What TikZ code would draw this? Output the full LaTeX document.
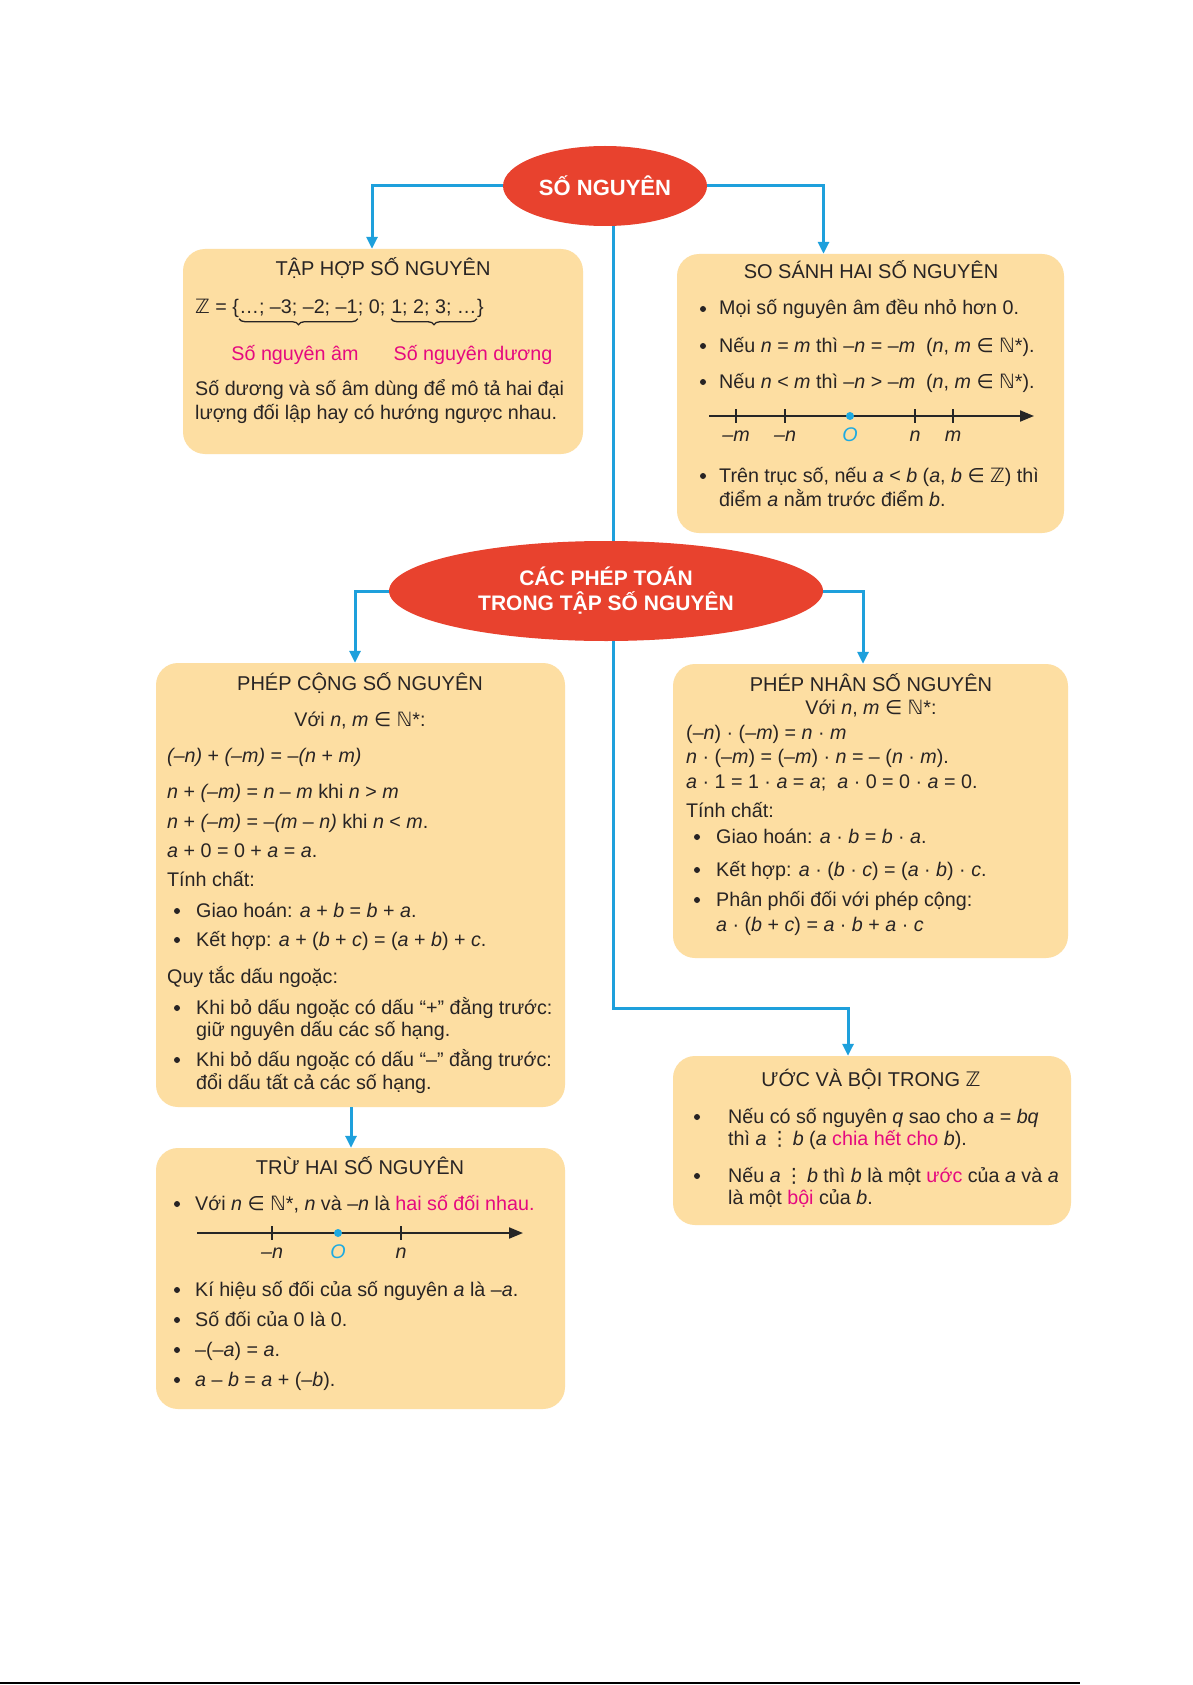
\documentclass[tikz,border=0pt]{standalone}
\usepackage{fontspec}
\setmainfont{Liberation Sans}
\newfontfamily\dvfont{DejaVu Sans}
\usetikzlibrary{arrows.meta,shapes.geometric,decorations.pathreplacing}
\definecolor{boxc}{RGB}{253,222,162}
\definecolor{redc}{RGB}{232,66,46}
\definecolor{bluec}{RGB}{30,160,220}
\definecolor{pinkc}{RGB}{229,9,127}
\definecolor{textc}{RGB}{40,36,36}
\definecolor{cyanc}{RGB}{30,170,225}
\newcommand{\itv}[1]{\textit{#1}}
\newcommand{\myN}{{\dvfont ℕ}}
\newcommand{\myZ}{{\dvfont ℤ}}
\newcommand{\myin}{{\dvfont ∈}}
\newcommand{\mydiv}{{\dvfont ⋮}}
\newcommand{\pk}[1]{\textcolor{pinkc}{#1}}
\newcommand{\bodyfont}{\fontsize{19.7}{23}\selectfont}
\newcommand{\ttlfont}{\fontsize{20}{24}\selectfont}
\begin{document}
\begin{tikzpicture}[x=1pt,y=-1pt,
  box/.style={rectangle, rounded corners=22pt, fill=boxc, inner sep=0pt},
  oval/.style={ellipse, fill=redc, inner sep=0pt, text=white, align=center},
  conn/.style={draw=bluec, line width=3pt, -{Triangle[length=12pt,width=11pt]}},
  plainconn/.style={draw=bluec, line width=3pt},
  txt/.style={anchor=base west, inner sep=0pt, font=\bodyfont, text=textc},
  ctr/.style={anchor=base, inner sep=0pt, font=\bodyfont, text=textc},
  ttl/.style={anchor=base, inner sep=0pt, font=\ttlfont, text=textc},
  lbl/.style={anchor=base, inner sep=0pt, font=\bodyfont\itshape, text=textc},
  numline/.style={draw=black!85, line width=2pt, -{Triangle[length=14pt,width=11pt]}},
  tick/.style={draw=black!85, line width=1.6pt},
  bul/.style={fill=textc},
  brc/.style={decorate, decoration={brace, mirror, amplitude=6pt}, line width=1.3pt, draw=textc}
]
\fill[white] (0,0) rectangle (1192,1685);
\useasboundingbox (0,0) rectangle (1192,1685);

% boxes
\node[box, minimum width=400pt, minimum height=205pt] (b1) at (383,351.5) {};
\node[box, minimum width=387pt, minimum height=279pt] (b2) at (870.5,393.5) {};
\node[box, minimum width=409pt, minimum height=444pt] (b3) at (360.5,885) {};
\node[box, minimum width=409pt, minimum height=261pt] (b4) at (360.5,1278.5) {};
\node[box, minimum width=395pt, minimum height=294pt] (b5) at (870.5,811) {};
\node[box, minimum width=398pt, minimum height=169pt] (b6) at (872,1140.5) {};

% ellipses
\node[oval, minimum width=204pt, minimum height=80pt, font=\fontsize{22}{26}\selectfont\bfseries] (e1) at (605,186) {SỐ NGUYÊN};
\node[oval, minimum width=434pt, minimum height=100pt, font=\fontsize{21}{25}\selectfont\bfseries] (e2) at (606,591) {CÁC PHÉP TOÁN\\TRONG TẬP SỐ NGUYÊN};

% connectors
\draw[conn] (e1.west) -| ([xshift=-11pt]b1.north);
\draw[conn] (e1.east) -| ([xshift=-47pt]b2.north);
\draw[plainconn] ([xshift=8pt]e1.south) -- ([xshift=7pt]e2.north);
\draw[conn] (e2.west) -| ([xshift=-5.5pt]b3.north);
\draw[conn] (e2.east) -| ([xshift=-7.5pt]b5.north);
\coordinate (turn) at (613,1008);
\draw[conn] ([xshift=7pt]e2.south) -- (turn) -| ([xshift=-24pt]b6.north);
\draw[conn] ([xshift=-9.5pt]b3.south) -- ([xshift=-9.5pt]b4.north);

% ---- Box 1: TAP HOP SO NGUYEN
\node[ttl] (t1) at (383,276) {TẬP HỢP SỐ NGUYÊN};
\node[txt] (z0) at (195,313) {\myZ{} = \{};
\node[txt] (z1) at (z0.base east) {…; –3; –2; –1};
\node[txt] (z2) at (z1.base east) {; 0;};
\node[txt] (z3) at ([xshift=5.5pt]z2.base east) {1; 2; 3; …};
\node[txt] (z4) at (z3.base east) {\}};
\draw[brc] ([yshift=-3pt]z1.south west) -- ([yshift=-3pt]z1.south east);
\draw[brc] ([yshift=-3pt]z3.south west) -- ([yshift=-3pt]z3.south east);
\node[ctr, text=pinkc] (t1b) at (295,360) {Số nguyên âm};
\node[ctr, text=pinkc] (t1c) at (473,360) {Số nguyên dương};
\node[txt] (t1d) at (195,395) {Số dương và số âm dùng để mô tả hai đại};
\node[txt] (t1e) at (195,419) {lượng đối lập hay có hướng ngược nhau.};

% ---- Box 2: SO SANH
\node[ttl] (t2) at (871,279) {SO SÁNH HAI SỐ NGUYÊN};
\fill[bul] (703,309) circle (3pt);
\node[txt] (t2a) at (719,315) {Mọi số nguyên âm đều nhỏ hơn 0.};
\fill[bul] (703,346) circle (3pt);
\node[txt] (t2b) at (719,352) {Nếu \itv{n} = \itv{m} thì –\itv{n} = –\itv{m}\ \ (\itv{n}, \itv{m} \myin{} \myN*).};
\fill[bul] (703,382) circle (3pt);
\node[txt] (t2c) at (719,388) {Nếu \itv{n} < \itv{m} thì –\itv{n} > –\itv{m}\ \ (\itv{n}, \itv{m} \myin{} \myN*).};
\draw[numline] (709,416) -- (1034,416);
\foreach \xx in {736,785,915,953} \draw[tick] (\xx,409) -- (\xx,423);
\fill[cyanc] (850,416) circle (4pt);
\node[lbl] (n1a) at (736,441) {–m};
\node[lbl] (n1b) at (785,441) {–n};
\node[lbl, text=cyanc] (n1c) at (850,441) {O};
\node[lbl] (n1d) at (915,441) {n};
\node[lbl] (n1e) at (953,441) {m};
\fill[bul] (703,476) circle (3pt);
\node[txt] (t2d) at (719,482) {Trên trục số, nếu \itv{a} < \itv{b} (\itv{a}, \itv{b} \myin{} \myZ) thì};
\node[txt] (t2e) at (719,506) {điểm \itv{a} nằm trước điểm \itv{b}.};

% ---- Box 3: PHEP CONG
\node[ttl] (t3) at (360,690) {PHÉP CỘNG SỐ NGUYÊN};
\node[ctr] (t3a) at (360,726) {Với \itv{n}, \itv{m} \myin{} \myN*:};
\node[txt] (t3b) at (167,762) {\itv{(–n)} + \itv{(–m)} = –\itv{(n} + \itv{m)}};
\node[txt] (t3c) at (167,798) {\itv{n} + \itv{(–m)} = \itv{n} – \itv{m} khi \itv{n} > \itv{m}};
\node[txt] (t3d) at (167,828) {\itv{n} + \itv{(–m)} = –\itv{(m} – \itv{n)} khi \itv{n} < \itv{m}.};
\node[txt] (t3e) at (167,857) {\itv{a} + 0 = 0 + \itv{a} = \itv{a}.};
\node[txt] (t3f) at (167,886) {Tính chất:};
\fill[bul] (177,911) circle (3pt);
\node[txt] (t3g) at (196,917) {Giao hoán: \itv{a} + \itv{b} = \itv{b} + \itv{a}.};
\fill[bul] (177,940) circle (3pt);
\node[txt] (t3h) at (196,946) {Kết hợp: \itv{a} + (\itv{b} + \itv{c}) = (\itv{a} + \itv{b}) + \itv{c}.};
\node[txt] (t3i) at (167,983) {Quy tắc dấu ngoặc:};
\fill[bul] (177,1008) circle (3pt);
\node[txt] (t3j) at (196,1014) {Khi bỏ dấu ngoặc có dấu “+” đằng trước:};
\node[txt] (t3k) at (196,1036) {giữ nguyên dấu các số hạng.};
\fill[bul] (177,1060) circle (3pt);
\node[txt] (t3l) at (196,1066) {Khi bỏ dấu ngoặc có dấu “–” đằng trước:};
\node[txt] (t3m) at (196,1089) {đổi dấu tất cả các số hạng.};

% ---- Box 4: TRU
\node[ttl] (t4) at (360,1174) {TRỪ HAI SỐ NGUYÊN};
\fill[bul] (177,1204) circle (3pt);
\node[txt] (t4a) at (195,1210) {Với \itv{n} \myin{} \myN*, \itv{n} và –\itv{n} là \pk{hai số đối nhau.}};
\draw[numline] (197,1233) -- (523,1233);
\foreach \xx in {272,401} \draw[tick] (\xx,1226) -- (\xx,1240);
\fill[cyanc] (338,1233) circle (4pt);
\node[lbl] (n2a) at (272,1258) {–n};
\node[lbl, text=cyanc] (n2b) at (338,1258) {O};
\node[lbl] (n2c) at (401,1258) {n};
\fill[bul] (177,1290) circle (3pt);
\node[txt] (t4b) at (195,1296) {Kí hiệu số đối của số nguyên \itv{a} là –\itv{a}.};
\fill[bul] (177,1320) circle (3pt);
\node[txt] (t4c) at (195,1326) {Số đối của 0 là 0.};
\fill[bul] (177,1350) circle (3pt);
\node[txt] (t4d) at (195,1356) {–(–\itv{a}) = \itv{a}.};
\fill[bul] (177,1380) circle (3pt);
\node[txt] (t4e) at (195,1386) {\itv{a} – \itv{b} = \itv{a} + (–\itv{b}).};

% ---- Box 5: PHEP NHAN
\node[ttl] (t5) at (871,691) {PHÉP NHÂN SỐ NGUYÊN};
\node[ctr] (t5a) at (871,714) {Với \itv{n}, \itv{m} \myin{} \myN*:};
\node[txt] (t5b) at (686,739) {(–\itv{n}) · (–\itv{m}) = \itv{n} · \itv{m}};
\node[txt] (t5c) at (686,763) {\itv{n} · (–\itv{m}) = (–\itv{m}) · \itv{n} = – (\itv{n} · \itv{m}).};
\node[txt] (t5d) at (686,788) {\itv{a} · 1 = 1 · \itv{a} = \itv{a};\ \ \itv{a} · 0 = 0 · \itv{a} = 0.};
\node[txt] (t5e) at (686,817) {Tính chất:};
\fill[bul] (697,837) circle (3pt);
\node[txt] (t5f) at (716,843) {Giao hoán: \itv{a} · \itv{b} = \itv{b} · \itv{a}.};
\fill[bul] (697,870) circle (3pt);
\node[txt] (t5g) at (716,876) {Kết hợp: \itv{a} · (\itv{b} · \itv{c}) = (\itv{a} · \itv{b}) · \itv{c}.};
\fill[bul] (697,900) circle (3pt);
\node[txt] (t5h) at (716,906) {Phân phối đối với phép cộng:};
\node[txt] (t5i) at (716,931) {\itv{a} · (\itv{b} + \itv{c}) = \itv{a} · \itv{b} + \itv{a} · \itv{c}};

% ---- Box 6: UOC VA BOI
\node[ttl] (t6) at (871,1086) {ƯỚC VÀ BỘI TRONG \myZ};
\fill[bul] (697,1117) circle (3pt);
\node[txt] (t6a) at (728,1123) {Nếu có số nguyên \itv{q} sao cho \itv{a} = \itv{bq}};
\node[txt] (t6b) at (728,1145) {thì \itv{a}\,\mydiv\,\itv{b} (\itv{a} \pk{chia hết cho} \itv{b}).};
\fill[bul] (697,1176) circle (3pt);
\node[txt] (t6c) at (728,1182) {Nếu \itv{a}\,\mydiv\,\itv{b} thì \itv{b} là một \pk{ước} của \itv{a} và \itv{a}};
\node[txt] (t6d) at (728,1204) {là một \pk{bội} của \itv{b}.};

% bottom rule
\draw[black, line width=1.5pt] (0,1683) -- (1080,1683);
\end{tikzpicture}
\end{document}
